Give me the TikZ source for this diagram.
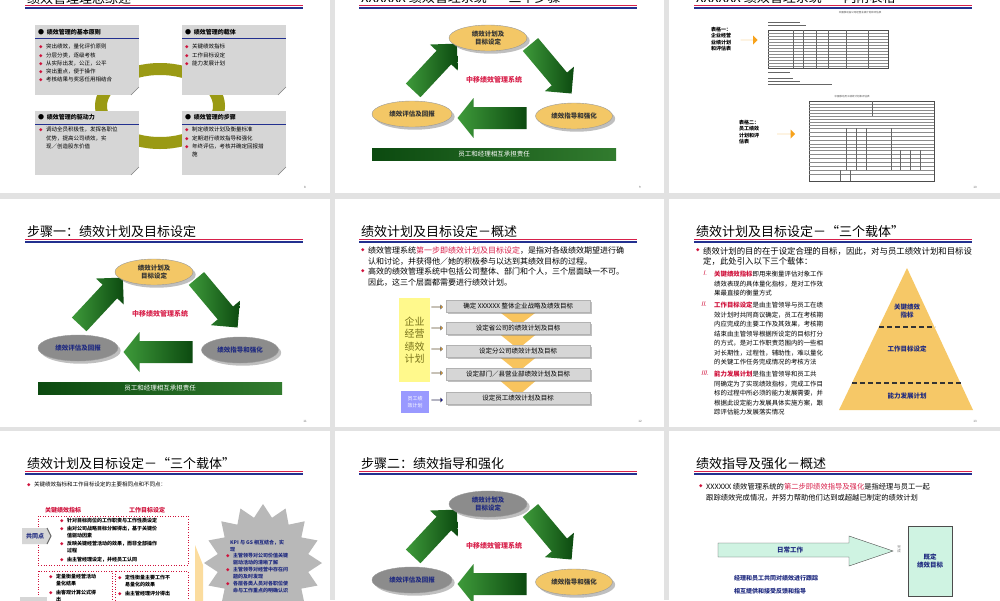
\documentclass[tikz,border=0pt]{standalone}
\usepackage{fontspec}
\setmainfont{Noto Sans CJK SC}[AutoFakeSlant=0.25]
\usetikzlibrary{shapes.geometric,shapes.arrows,shadows}
\definecolor{pgrey}{HTML}{E2E2E2}
\definecolor{tred}{HTML}{D8204A}
\definecolor{tblue}{HTML}{23308F}
\definecolor{bred}{HTML}{D0103A}
\definecolor{boxg}{HTML}{D6D6D6}
\definecolor{olivering}{HTML}{9A9A14}
\definecolor{ellY}{HTML}{F3C766}
\definecolor{ellG}{HTML}{8C8C8C}
\definecolor{navy}{HTML}{1F2A80}
\definecolor{gdark}{HTML}{0C4A10}
\definecolor{glight}{HTML}{3E9A3A}
\definecolor{pyr}{HTML}{F6C867}
\definecolor{mint}{HTML}{CFF3E2}
\definecolor{orng}{HTML}{F7A21B}
\definecolor{chev}{HTML}{F8C45E}
\tikzset{
 x=1pt,y=-1pt,
 ttl/.style={font=\fontsize{13}{15}\selectfont,inner sep=0,anchor=west},
 cur/.style={font=\fontsize{5.5}{8}\selectfont},
 ey/.style={ellipse,fill=ellY,draw=black!40,drop shadow,inner sep=0,font=\fontsize{6.5}{8.5}\selectfont\bfseries,text=black!80,align=center,minimum height=26},
 eg/.style={ellipse,fill=ellG,draw=black!40,drop shadow,inner sep=0,font=\fontsize{6.5}{8.5}\selectfont\bfseries,text=navy,align=center,minimum height=26},
 gshade/.style={left color=glight,right color=gdark},
 gbar/.style={fill=gdark,left color=gdark,right color=glight!80!black,text=white,font=\fontsize{6.5}{8}\selectfont,minimum height=12,inner sep=0},
 sbox/.style={fill=boxg,draw=black!30,drop shadow={shadow xshift=1.5pt,shadow yshift=-1.5pt},minimum height=12,minimum width=144,inner sep=0,font=\fontsize{6.5}{8}\selectfont},
 oarr/.style={single arrow,fill=orng,draw=black!60,minimum height=11,minimum width=4,single arrow head extend=1.5,inner sep=0},
 pnum/.style={font=\fontsize{3}{3}\selectfont,text=black!60}
}
\newcommand{\sltitle}[3]{%
 \node[ttl] at (#1+27,#2+33) {#3};
 \draw[tred,line width=1.1pt] (#1+25,#2+40.3) -- (#1+303,#2+40.3);
 \draw[tblue,line width=2pt] (#1+25,#2+43) -- (#1+303,#2+43);}
\newcommand{\bitem}[3]{%
 \node[inner sep=0,anchor=north west,text=bred,font=\fontsize{3.5}{4}\selectfont] at (#1,#2+1.6) {◆};
 \node[cur,inner sep=0,anchor=north west,align=left] at (#1+7,#2) {#3};}
% block arrow: center x, center y, angle, length, shaft half width, head half width, head length
\newcommand{\barrow}[7]{%
 \begin{scope}[shift={(#1,#2)},rotate=#3]
 \shade[gshade] (-#4/2,-#5) -- (#4/2-#7,-#5) -- (#4/2-#7,-#6) -- (#4/2,0) -- (#4/2-#7,#6) -- (#4/2-#7,#5) -- (-#4/2,#5) -- cycle;
 \end{scope}}
\newcommand{\cyc}[6]{%
\begin{scope}[shift={(#1,#2)},name prefix=#6-]
 \barrow{101}{102}{47}{64}{10}{19}{19}
 \barrow{217}{104}{-50}{64}{10}{19}{19}
 \barrow{158}{153}{180}{69}{11}{20}{16}
 \node[#3,minimum width=78] (t) at (154,73) {绩效计划及\\目标设定};
 \node[#4,minimum width=80] (l) at (78,149) {绩效评估及回报};
 \node[#5,minimum width=77] (r) at (240,151) {绩效指导和强化};
 \node[text=tred,font=\fontsize{7}{8}\selectfont\bfseries] (c) at (160,115) {中移绩效管理系统};
 \node[gbar,minimum width=244] (b) at (160,189) {员工和经理相互承担责任};
\end{scope}}
\begin{document}
\begin{tikzpicture}
\useasboundingbox (0,0) rectangle (1000,600);
\clip (0,0) rectangle (1000,600);
\fill[pgrey] (0,0) rectangle (1000,600);
\foreach \xa/\xb in {0/330,335/664,669/1000}
 \foreach \ya/\yb in {-35/193,199/427,431/659}
  \fill[white] (\xa,\ya) rectangle (\xb,\yb);
\node[pnum] at (305,187) {8}; \node[pnum] at (640,187) {9}; \node[pnum] at (975,187) {10};
\node[pnum] at (305,421) {11}; \node[pnum] at (640,421) {12}; \node[pnum] at (975,421) {13};

% ===== Slide 1 =====
\sltitle{0}{-35}{绩效管理理念综述}
\draw[olivering,line width=12pt] (160,106) ellipse (59 and 37);
\foreach \bx/\by/\bh in {35/25/70,182/25/70,35/111/64,182/111/64}{
 \fill[boxg] (\bx,\by) rectangle (\bx+104,\by+\bh);
 \fill[white] (\bx+104,\by+\bh-8) -- (\bx+104,\by+\bh) -- (\bx+96,\by+\bh) -- cycle;
 \draw[black!50] (\bx+96,\by+\bh) -- (\bx+104,\by+\bh-8);
 \draw[tblue,line width=1pt] (\bx,\by+13) -- (\bx+104,\by+13);}
\begin{scope}[cur/.style={font=\fontsize{5.5}{8.2}\selectfont}]
\node[anchor=west,inner sep=0,font=\fontsize{6}{7}\selectfont\bfseries] (h1) at (38,32) {● \ 绩效管理的基本原则};
\node[anchor=west,inner sep=0,font=\fontsize{6}{7}\selectfont\bfseries] (h2) at (185,32) {● \ 绩效管理的载体};
\node[anchor=west,inner sep=0,font=\fontsize{6}{7}\selectfont\bfseries] (h3) at (38,117) {● \ 绩效管理的驱动力};
\node[anchor=west,inner sep=0,font=\fontsize{6}{7}\selectfont\bfseries] (h4) at (185,117) {● \ 绩效管理的步骤};
\bitem{39}{44}{突出绩效，量化评价原则}
\bitem{39}{52.2}{分层分类，逐级考核}
\bitem{39}{60.4}{从实际出发，公正，公平}
\bitem{39}{68.6}{突出重点，便于操作}
\bitem{39}{76.8}{考核结果与奖惩任用相结合}
\bitem{185}{44}{关键绩效指标}
\bitem{185}{52.2}{工作目标设定}
\bitem{185}{60.4}{能力发展计划}
\bitem{39}{127}{调动全员积极性，发挥各职位\\优势，提高公司绩效，实\\现／创造股东价值}
\bitem{185}{127}{制定绩效计划及衡量标准}
\bitem{185}{135.2}{定期进行绩效指导和强化}
\bitem{185}{143.4}{年终评估，考核并确定回报措\\施}
\end{scope}

% ===== Slide 2 =====
\sltitle{334}{-35}{XXXXXX 绩效管理系统——三个步骤}
\cyc{334}{-35}{ey}{ey}{ey}{s2}

% ===== Slide 3 =====
\sltitle{669}{-35}{XXXXXX 绩效管理系统——内附表格}
\node[font=\fontsize{2.5}{3}\selectfont,text=black!70] (t3a) at (860,13) {中国移动省公司经营业绩计划和评估表};
\node[font=\fontsize{5}{6.5}\selectfont\bfseries,align=left,anchor=north west,inner sep=0] (l31) at (711,27) {表格一：\\企业经营\\业绩计划\\和评估表};
\node[single arrow,fill=orng,minimum height=17,minimum width=9,single arrow head extend=4,inner sep=0] (ar31) at (749,40) {};
\draw[black!60,line width=0.3pt] (768,22)--(800,22) (768,25)--(806,25);
\draw[black!70,line width=0.4pt] (768,30) rectangle (888,68);
\foreach \y in {33,36,39,42,45,48,51,54,57,60,63,66} \draw[black!45,line width=0.2pt] (768,\y)--(888,\y);
\foreach \x in {793,803,816,828,846,868} \draw[black!60,line width=0.25pt] (\x,30)--(\x,68);
\draw[black!60,line width=0.3pt] (768,72)--(790,72) (768,78)--(793,78) (768,81)--(800,81) (768,84)--(832,84);
\node[font=\fontsize{2.5}{3}\selectfont,text=black!70] (t3b) at (852,97) {中国移动员工绩效计划和评估表};
\node[font=\fontsize{5}{6.5}\selectfont\bfseries,align=left,anchor=north west,inner sep=0] (l32) at (739,120) {表格二：\\员工绩效\\计划和评\\估表};
\node[single arrow,fill=orng,minimum height=18,minimum width=9,single arrow head extend=4,inner sep=0] (ar32) at (786,134) {};
\draw[black!70,line width=0.4pt] (809,101) rectangle (934,181);
\foreach \y in {104,107,110,113,116,119,122,125,128,132,136,140,144,147,150,154,158,162,166,170,174} \draw[black!45,line width=0.2pt] (809,\y)--(934,\y);
\draw[black!60,line width=0.25pt] (872,101)--(872,116) (846,128)--(846,170) (856,128)--(856,170) (866,128)--(866,170) (891,128)--(891,170) (900,150)--(900,170) (910,150)--(910,170) (920,150)--(920,170) (840,170)--(840,181) (850,170)--(850,181);

% ===== Slide 4 =====
\sltitle{0}{199}{步骤一：绩效计划及目标设定}
\cyc{0}{199}{ey}{eg}{eg}{s4}

% ===== Slide 5 =====
\sltitle{334}{199}{绩效计划及目标设定－概述}
\begin{scope}[cur/.style={font=\fontsize{8}{10.3}\selectfont}]
\bitem{361}{247}{绩效管理系统{\color{tred}第一步即绩效计划及目标设定}，是指对各级绩效期望进行确\\认和讨论，并获得他／她的积极参与以达到其绩效目标的过程。}
\bitem{361}{268}{高效的绩效管理系统中包括公司整体、部门和个人，三个层面缺一不可。\\因此，这三个层面都需要进行绩效计划。}
\end{scope}
\foreach \tp/\nt in {300/322,322/345,345/368,368/392}
 \fill[chev] (497,\tp+10) -- (539,\tp+10) -- (518,\nt+4) -- cycle;
\node[sbox,anchor=north west] (b51) at (446,300) {确定 XXXXXX 整体企业战略及绩效目标};
\node[sbox,anchor=north west] (b52) at (446,322) {设定省公司的绩效计划及目标};
\node[sbox,anchor=north west] (b53) at (446,345) {设定分公司绩效计划及目标};
\node[sbox,anchor=north west] (b54) at (446,368) {设定部门／县营业部绩效计划及目标};
\node[sbox,anchor=north west] (b55) at (446,392) {设定员工绩效计划及目标};
\node[fill=yellow!45,minimum width=31,minimum height=84,inner sep=0,align=center,text=olive!80!black,font=\fontsize{10}{12.5}\selectfont] (y5) at (414.5,340) {企业\\经营\\绩效\\计划};
\node[fill=blue!40,minimum width=28,minimum height=22,inner sep=0,align=center,text=white,font=\fontsize{5}{6.5}\selectfont] (p5) at (415,402) {员工绩\\效计划};
\node[oarr] at (437,307) {}; \node[oarr] at (437,328) {}; \node[oarr] at (437,349) {}; \node[oarr] at (437,373) {};
\node[oarr,fill=blue!70!black] at (437,400) {};

% ===== Slide 6 =====
\sltitle{669}{199}{绩效计划及目标设定－“三个载体”}
\begin{scope}[cur/.style={font=\fontsize{8.4}{10.3}\selectfont}]
\bitem{696}{247}{绩效计划的目的在于设定合理的目标，因此，对与员工绩效计划和目标设\\定，此处引入以下三个载体：}
\end{scope}
\begin{scope}[every node/.style={inner sep=0,anchor=north west,align=left,font=\fontsize{6.4}{9.5}\selectfont}]
\node[text=bred] (i1) at (703,271) {\itshape I.};
\node (t61) at (714,271) {{\color{bred}\itshape\bfseries 关键绩效指标}即用来衡量评估对象工作\\绩效表现的具体量化指标，是对工作效\\果最直接的衡量方式};
\node[text=bred] (i2) at (701,302) {\itshape II.};
\node (t62) at (714,302) {{\color{bred}\itshape\bfseries 工作目标设定}是由主管领导与员工在绩\\效计划时共同商议确定，员工在考核期\\内应完成的主要工作及其效果，考核期\\结束由主管领导根据所设定的目标打分\\的方式，是对工作职责范围内的一些相\\对长期性，过程性，辅助性，难以量化\\的关键工作任务完成情况的考核方法};
\node[text=bred] (i3) at (701,371) {\itshape III.};
\node (t63) at (714,371) {{\color{bred}\itshape\bfseries 能力发展计划}是指主管领导和员工共\\同确定为了实现绩效指标，完成工作目\\标的过程中所必须的能力发展需要，并\\根据此设定能力发展具体实施方案，跟\\踪评估能力发展落实情况};
\end{scope}
\fill[pyr] (907,268) -- (973,410) -- (839,410) -- cycle;
\draw[black!80,line width=1.2pt,dash pattern=on 5pt off 3pt] (879,327) -- (935,327);
\draw[black!80,line width=1.2pt,dash pattern=on 5pt off 3pt] (852,383) -- (963,383);
\begin{scope}[every node/.style={align=center,text=navy,font=\fontsize{6.5}{8.5}\selectfont\bfseries}]
\node (k1) at (907,311) {关键绩效\\指标};
\node (k2) at (907,349) {工作目标设定};
\node (k3) at (907,396) {能力发展计划};
\end{scope}

% ===== Slide 7 =====
\sltitle{0}{431}{绩效计划及目标设定－“三个载体”}
\begin{scope}[cur/.style={font=\fontsize{5.5}{8}\selectfont}]
\bitem{27}{482}{关键绩效指标和工作目标设定的主要相同点和不同点：}
\end{scope}
\node[text=bred,font=\fontsize{6}{7}\selectfont\bfseries] (hk) at (63,510) {关键绩效指标};
\node[text=bred,font=\fontsize{6}{7}\selectfont\bfseries] (hg) at (147,510) {工作目标设定};
\draw[bred,dotted,line width=0.6pt] (38,516) rectangle (188,565);
\draw[bred,dotted,line width=0.6pt] (38,571) rectangle (112,612);
\draw[bred,dotted,line width=0.6pt] (115,571) rectangle (188,612);
\fill[chev!60] (195,545) -- (203,565) -- (203,612) -- (195,612) -- cycle;
\fill[boxg] (22,528) -- (47,528) -- (51,536) -- (47,544) -- (22,544) -- cycle;
\draw[black!60,line width=1pt] (47,528) -- (51,536) -- (47,544);
\node[text=navy,font=\fontsize{6}{7}\selectfont\bfseries] (gt) at (35,536) {共同点};
\fill[boxg] (20,597) rectangle (47,612);
\begin{scope}[cur/.style={font=\fontsize{5}{7.3}\selectfont\bfseries}]
\bitem{60}{518}{针对目标岗位的工作职责与工作性质设定}
\bitem{60}{526}{由对公司战略目标分解得出，基于关键价\\值驱动因素}
\bitem{60}{541}{反映关键经营活动的效果，而非全部操作\\过程}
\bitem{60}{556.5}{由主管经理设定，并经员工认同}
\bitem{49}{574}{定量衡量经营活动\\量化结果}
\bitem{49}{590}{由客观计算公式得\\出}
\bitem{118}{575}{定性衡量主要工作不\\易量化的效果}
\bitem{118}{591}{由主管经理评分得出}
\end{scope}
\node[star,star points=16,star point ratio=1.28,fill=black!28,minimum size=118,inner sep=0] (st) at (263,563) {};
\node[text=navy,font=\fontsize{5}{6.5}\selectfont\bfseries,align=left,anchor=north west,inner sep=0] (kg) at (230,540) {KPI 与 GS 相互结合，实\\现};
\begin{scope}[cur/.style={font=\fontsize{5}{6.5}\selectfont\bfseries,text=navy}]
\bitem{226}{553}{主管领导对公司价值关键\\驱动活动的清晰了解}
\bitem{226}{567}{主管领导对经营中存在问\\题的及时发现}
\bitem{226}{581}{各层各类人员对各职位使\\命与工作重点的明确认识}
\end{scope}

% ===== Slide 8 =====
\sltitle{334}{431}{步骤二：绩效指导和强化}
\cyc{334}{431}{eg}{eg}{ey}{s8}

% ===== Slide 9 =====
\sltitle{669}{431}{绩效指导及强化－概述}
\begin{scope}[cur/.style={font=\fontsize{7.3}{11.5}\selectfont}]
\bitem{699}{483}{XXXXXX 绩效管理系统的{\color{tred}第二步即绩效指导及强化}是指经理与员工一起\\跟踪绩效完成情况，并努力帮助他们达到或超越已制定的绩效计划}
\end{scope}
\draw[black!70,fill=mint] (718,543) -- (849,543) -- (849,536) -- (893,551) -- (849,566) -- (849,557) -- (718,557) -- cycle;
\node[text=navy,font=\fontsize{6.5}{8}\selectfont\bfseries] (rw) at (790,550) {日常工作};
\node[text=black!55,font=\fontsize{3.5}{4.5}\selectfont,align=center] (wc) at (899,549) {完\\成};
\node[draw=black!70,fill=mint,minimum width=44,minimum height=70,inner sep=0,align=center,text=navy,font=\fontsize{6.5}{8.5}\selectfont\bfseries] (gb) at (930,561) {既定\\绩效目标};
\node[anchor=west,inner sep=0,text=navy,font=\fontsize{6}{7}\selectfont\bfseries] (n1) at (734,578) {经理和员工共同对绩效进行跟踪};
\node[anchor=west,inner sep=0,text=navy,font=\fontsize{6}{7}\selectfont\bfseries] (n2) at (734,591) {相互提供和接受反馈和指导};
\end{tikzpicture}
\end{document}
